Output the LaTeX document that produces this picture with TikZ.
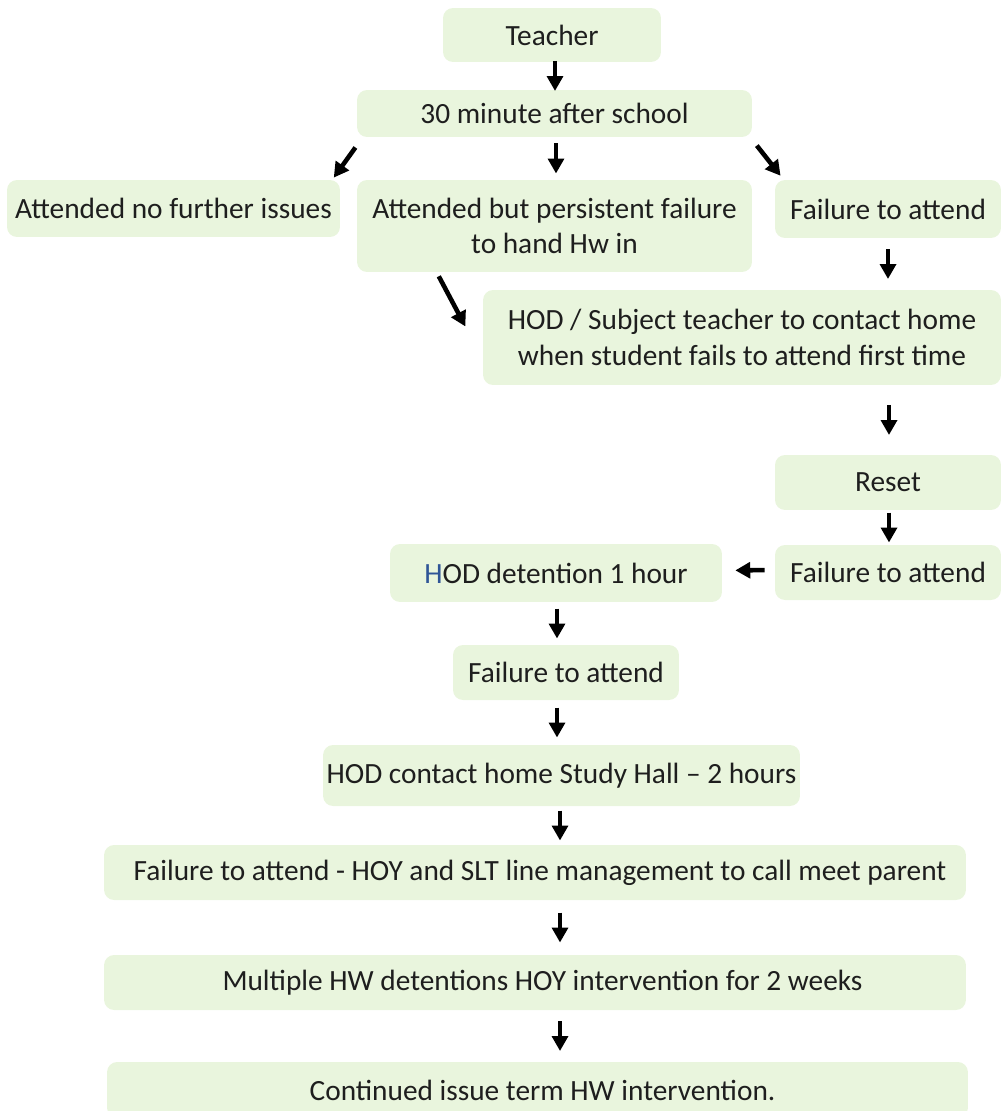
\documentclass[tikz,border=0pt]{standalone}
\usepackage{fontspec}
\setmainfont{Carlito}
\usetikzlibrary{arrows.meta}

\definecolor{boxgreen}{RGB}{233,245,221}
\definecolor{hblue}{RGB}{47,85,151}
\definecolor{textgray}{RGB}{30,30,30}

\tikzset{
    stage/.style={rectangle, rounded corners=0.2cm, fill=boxgreen, text=textgray,
        align=center, inner sep=0pt, font=\fontsize{16.7}{20.4}\selectfont},
    arr/.style={-{Triangle[length=8.5pt,width=9pt]}, line width=2.6pt}
}

\begin{document}
\begin{tikzpicture}[x=0.02cm, y=-0.02cm]

        % Page size of the reference (in pixels)
        \useasboundingbox (0,0) rectangle (1000,1111);

        % Top of the chart
        \node[stage, minimum width=4.36cm, minimum height=1.08cm] (teacher) at (552,35) {Teacher};
        \node[stage, minimum width=7.9cm, minimum height=0.94cm] (after) at (554.5,113.5) {30 minute after school};

        % Three outcomes of the after school session
        \node[stage, minimum width=6.66cm, minimum height=1.14cm] (noissue) at (173.5,208.5) {Attended no further issues};
        \node[stage, minimum width=7.9cm, minimum height=1.84cm] (persist) at (554.5,226) {Attended but persistent failure\\to hand Hw in};
        \node[stage, minimum width=4.52cm, minimum height=1.16cm] (failA) at (888,209) {Failure to attend};

        % Right hand column
        \node[stage, minimum width=10.36cm, minimum height=1.9cm] (contact) at (742,337.5) {HOD / Subject teacher to contact home\\when student fails to attend first time};
        \node[stage, minimum width=4.52cm, minimum height=1.1cm] (reset) at (888,482.5) {Reset};
        \node[stage, minimum width=4.52cm, minimum height=1.1cm] (failB) at (888,572.5) {Failure to attend};

        % Central column going down
        \node[stage, minimum width=6.64cm, minimum height=1.16cm] (hoddet) at (556,573) {\textcolor{hblue}{H}OD detention 1 hour};
        \node[stage, minimum width=4.52cm, minimum height=1.1cm] (failC) at (566,672.5) {Failure to attend};
        \node[stage, minimum width=9.54cm, minimum height=1.22cm] (hodhome) at (561.5,775.5) {HOD contact home Study Hall -- 2 hours};
        \node[stage, minimum width=17.24cm, minimum height=1.1cm] (hoy) at (535,872.5) {\hspace{0.2cm}Failure to attend - HOY and SLT line management to call meet parent};
        \node[stage, minimum width=17.24cm, minimum height=1.1cm] (multi) at (535,982.5) {\hspace{0.3cm}Multiple HW detentions HOY intervention for 2 weeks};
        \node[stage, minimum width=17.22cm, minimum height=1.12cm] (cont) at (537.5,1090) {\hspace{0.2cm}Continued issue term HW intervention.};

        % Straight down arrows, centred in the gap between two boxes
        \foreach \a/\b/\x in {teacher/after/555, after/persist/556, failA/contact/888,
                contact/reset/889, reset/failB/889, hoddet/failC/557, failC/hodhome/557,
                hodhome/hoy/560, hoy/multi/560, multi/cont/560} {
            \path (\a.south) -- coordinate (mid) (\b.north);
            \coordinate (ax) at (\x,0);
            \draw[arr] (ax |- mid) ++(0,-15) -- ++(0,30);
        }

        % Slanted and sideways arrows
        \draw[arr, shorten <=0.25cm, shorten >=0.05cm] ([xshift=0.12cm]after.south west) -- ([xshift=-0.16cm]noissue.north east);
        \draw[arr, shorten <=0.21cm, shorten >=0.1cm] ([xshift=-0.04cm]after.south east) -- ([xshift=0.18cm]failA.north west);
        \draw[arr, shorten <=0.09cm, shorten >=0.25cm] ([xshift=1.6cm]persist.south west) -- ([xshift=-0.23cm]contact.west);
        \draw[arr, shorten <=0.2cm, shorten >=0.26cm] ([yshift=0.05cm]failB.west) -- ([yshift=0.05cm]hoddet.east);

    \end{tikzpicture}
\end{document}
